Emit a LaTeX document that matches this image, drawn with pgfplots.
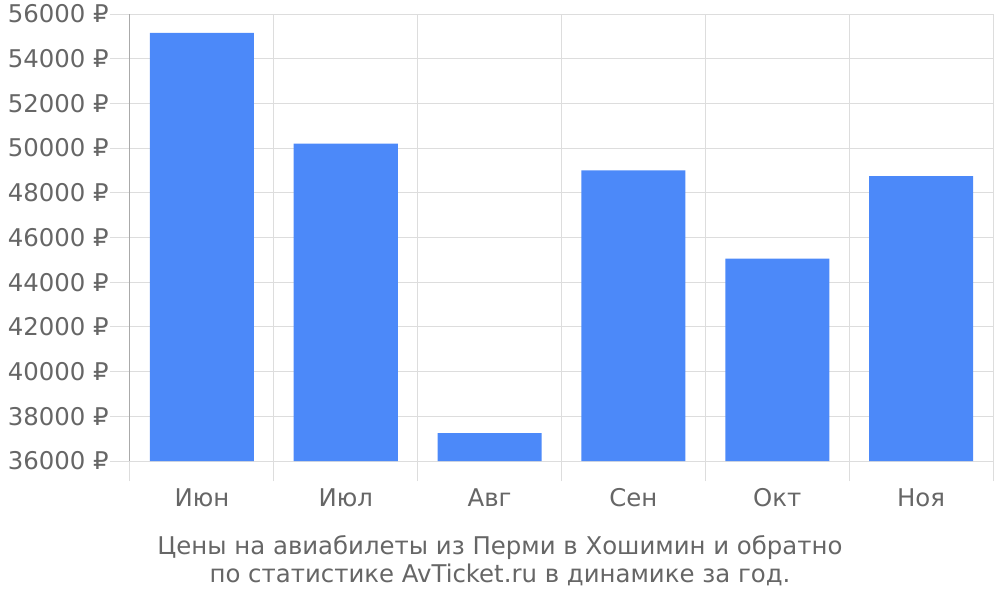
\documentclass[border=0pt]{standalone}
\usepackage{fontspec}
\setmainfont{DejaVu Sans}
\usepackage{pgfplots}
\pgfplotsset{compat=1.18}
\definecolor{barblue}{HTML}{4C89F9}
\definecolor{gridgray}{HTML}{DDDDDD}
\definecolor{axisgray}{HTML}{AAAAAA}
\definecolor{textgray}{HTML}{666666}

\begin{document}
\fontsize{24.4}{28}\selectfont
\begin{tikzpicture}
\useasboundingbox (-130pt,-139pt) rectangle (870pt,461pt);
\begin{axis}[
  at={(0,0)}, anchor=south west,
  scale only axis, width=863pt, height=447pt,
  xmin=-0.5, xmax=5.5, ymin=36000, ymax=56000,
  ybar, bar width=104pt,
  axis lines*=left,
  x axis line style={draw=gridgray, line width=1pt},
  y axis line style={draw=axisgray, line width=1pt},
  tick align=outside,
  major tick length=20pt,
  tick style={draw=gridgray, line width=1pt},
  major grid style={draw=gridgray, line width=1pt},
  scaled y ticks=false,
  ytick={36000,38000,...,56000},
  ymajorgrids,
  yticklabel={\pgfmathprintnumber[fixed,1000 sep={},assume math mode=true]{\tick}~₽},
  yticklabel style={xshift=7pt},
  xtick={-0.5,0.5,...,5.5},
  xticklabels={},
  xmajorgrids,
  extra x ticks={0,1,2,3,4,5},
  extra x tick labels={Июн,Июл,Авг,Сен,Окт,Ноя},
  extra x tick style={grid=none, major tick length=0pt, xticklabel style={yshift=-19pt}},
  ticklabel style={text=textgray, font=\fontsize{24.4}{28}\selectfont},
  xlabel={Цены на авиабилеты из Перми в Хошимин и обратно\\по статистике AvTicket.ru в динамике за год.},
  xlabel style={align=center, at={(axis description cs:0.4287,-0.2237)}, anchor=center, text=textgray, font=\fontsize{24.4}{28}\selectfont},
]
\addplot[fill=barblue, draw=none] coordinates {
  (0,55150) (1,50200) (2,37250) (3,49000) (4,45050) (5,48750)
};
\end{axis}
\end{tikzpicture}
\end{document}
